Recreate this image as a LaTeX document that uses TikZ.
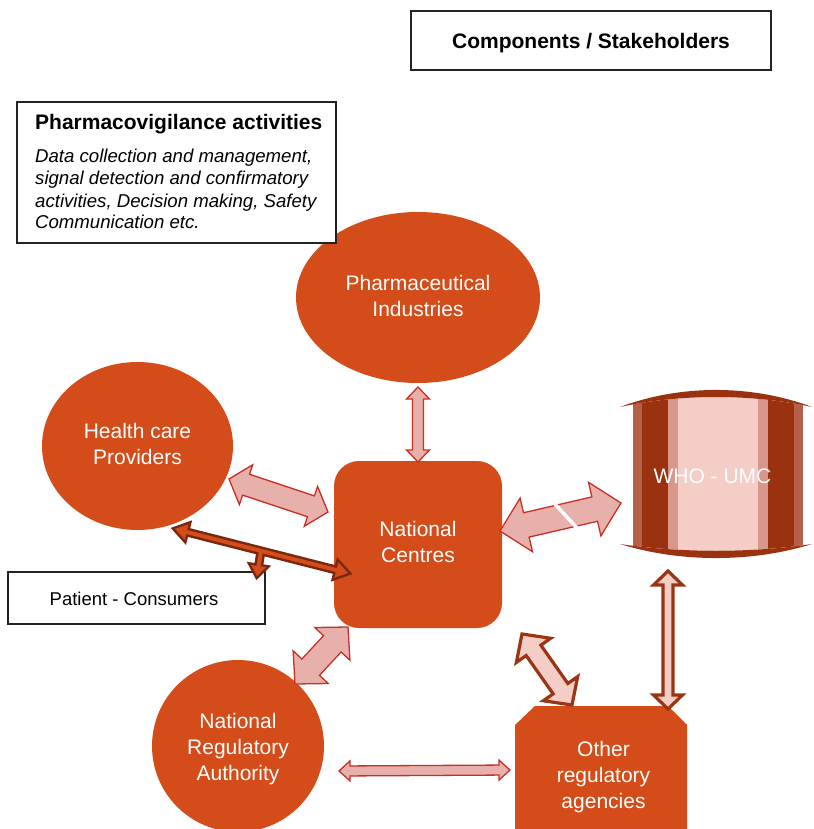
\documentclass[tikz,border=0pt]{standalone}
\usepackage{fontspec}
\setmainfont{Liberation Sans}
\usetikzlibrary{calc,shapes.geometric}

\definecolor{pvorange}{RGB}{211,76,26}
\definecolor{pinkfill}{RGB}{232,176,170}
\definecolor{pinkline}{RGB}{200,48,38}
\definecolor{palefill}{RGB}{244,205,199}
\definecolor{brownline}{RGB}{155,52,18}
\definecolor{darkbrown}{RGB}{155,50,15}
\definecolor{midpink}{RGB}{217,150,138}
\definecolor{midbrown}{RGB}{181,96,74}
\definecolor{tline}{RGB}{120,40,15}
\definecolor{boxline}{RGB}{35,35,35}

% block double arrow: style, tip A, tip B, shaft half width, head half width, head length
\newcommand{\dblarrow}[6]{%
  \coordinate (da) at ($(#2)!#6!(#3)$);
  \coordinate (db) at ($(#3)!#6!(#2)$);
  \path[#1] (#2) -- ($(da)!#5!90:(#3)$) -- ($(da)!#4!90:(#3)$)
    -- ($(db)!#4!90:(#3)$) -- ($(db)!#5!90:(#3)$) -- (#3)
    -- ($(db)!#5!-90:(#3)$) -- ($(db)!#4!-90:(#3)$)
    -- ($(da)!#4!-90:(#3)$) -- ($(da)!#5!-90:(#3)$) -- cycle;}
% block single arrow: style, base, tip, shaft half width, head half width, head length
\newcommand{\sglarrow}[6]{%
  \coordinate (db) at ($(#3)!#6!(#2)$);
  \path[#1] ($(#2)!#4!90:(#3)$) -- ($(db)!#4!90:(#3)$) -- ($(db)!#5!90:(#3)$)
    -- (#3) -- ($(db)!#5!-90:(#3)$) -- ($(db)!#4!-90:(#3)$)
    -- ($(#2)!#4!-90:(#3)$) -- cycle;}

\tikzset{
  whitetext/.style={text=white, align=center, inner sep=0pt,
    font=\fontsize{21}{26}\selectfont},
  stakeholder/.style={fill=pvorange, inner sep=0pt},
  softarrow/.style={fill=pinkfill, draw=pinkline, line width=1.3pt, line join=miter},
  palearrow/.style={fill=palefill, draw=brownline, line width=3.2pt, line join=miter},
  toutline/.style={draw=tline, line width=5pt, line join=miter},
  tfill/.style={fill=pvorange},
  labelbox/.style={draw=boxline, line width=1.1pt, fill=white},
  blacktext/.style={text=black, inner sep=0pt},
}

\begin{document}
\begin{tikzpicture}[x=1pt, y=-1pt]
\useasboundingbox (0,0) rectangle (813,829);
\clip (0,0) rectangle (813,829);

% stakeholder shapes
\node[stakeholder, ellipse, minimum width=244pt, minimum height=171pt] (pharma) at (418,297.5) {};
\node[whitetext] (pharmatext) at (418,296) {Pharmaceutical\\Industries};

\node[stakeholder, ellipse, minimum width=191pt, minimum height=168pt] (hcp) at (137.5,446) {};
\node[whitetext] (hcptext) at (137.5,444) {Health care\\Providers};

\node[stakeholder, rectangle, rounded corners=25pt, minimum width=168pt, minimum height=167pt] (nc) at (418,544.5) {};
\node[whitetext] (nctext) at (418,542) {National\\Centres};

\node[stakeholder, circle, minimum size=172pt] (nra) at (238,746) {};
\node[whitetext] (nratext) at (238,749) {National\\Regulatory\\Authority};

\fill[pvorange] (535,706) -- (668,706) -- (687,725) -- (687,840) -- (515,840) -- (515,725) -- cycle;
\node[whitetext] (oratext) at (603.5,777.5) {Other\\regulatory\\agencies};

% WHO - UMC barrel
\begin{scope}
  \clip (620,407) .. controls (680,393.7) and (752,393.7) .. (812,407)
     -- (812,544) .. controls (752,553) and (680,553) .. (620,544) -- cycle;
  \fill[midbrown]  (633,380) rectangle (642,570);
  \fill[darkbrown] (642,380) rectangle (668,570);
  \fill[midpink]   (668,380) rectangle (678,570);
  \fill[palefill]  (678,380) rectangle (758,570);
  \fill[midpink]   (758,380) rectangle (768,570);
  \fill[darkbrown] (768,380) rectangle (794,570);
  \fill[midbrown]  (794,380) rectangle (803,570);
\end{scope}
\fill[darkbrown] (620,407) .. controls (680,384.3) and (752,384.3) .. (812,407)
   .. controls (752,393.7) and (680,393.7) .. (620,407) -- cycle;
\fill[darkbrown] (620,544) .. controls (680,553) and (752,553) .. (812,544)
   .. controls (752,562.7) and (680,562.7) .. (620,544) -- cycle;
\node[blacktext, text=white, anchor=base, font=\fontsize{21}{26}\selectfont] (who) at (712.5,483) {WHO - UMC};

% arrow end points
\coordinate (pharmaS) at (418,387);
\coordinate (ncN) at (418,462);
\coordinate (hcpE) at (229,479);
\coordinate (ncW) at (328,512);
\coordinate (ncE) at (500,531);
\coordinate (whoW) at (621,503);
\coordinate (ncSW) at (348,627);
\coordinate (nraNE) at (295,684);
\coordinate (nraE) at (339,771);
\coordinate (oraW) at (510,770);
\coordinate (ncSE) at (522,634);
\coordinate (oraN) at (572,705);
\coordinate (whoS) at (668,571);
\coordinate (oraNE) at (668,709);
\coordinate (gapA) at (553,502);
\coordinate (gapB) at (578,529);

% connectors
\dblarrow{softarrow}{pharmaS}{ncN}{5.5pt}{11.5pt}{12pt}
\dblarrow{softarrow}{hcpE}{ncW}{11pt}{21pt}{18pt}
\dblarrow{softarrow}{ncE}{whoW}{12.5pt}{27.5pt}{27pt}
\draw[white, line width=3.5pt] (gapA) -- (gapB);
\dblarrow{softarrow}{nraNE}{ncSW}{12pt}{24pt}{23pt}
\dblarrow{softarrow}{nraE}{oraW}{5pt}{10pt}{11pt}
\dblarrow{palearrow}{ncSE}{oraN}{9pt}{21pt}{20pt}
\dblarrow{palearrow}{whoS}{oraNE}{5pt}{14.5pt}{14pt}

% patient - consumers
\node[labelbox, minimum width=257pt, minimum height=52pt, inner sep=0pt] (patientbox) at (136.5,598) {};
\node[blacktext, anchor=base, font=\fontsize{18.5}{22}\selectfont] (patient) at (134,605) {Patient - Consumers};

\coordinate (tL) at (175,529);
\coordinate (tR) at (348,573);
\coordinate (tJ) at (261,551);
\coordinate (tD) at (257,576);
\dblarrow{toutline}{tL}{tR}{2pt}{8pt}{12pt}
\sglarrow{toutline}{tJ}{tD}{2pt}{7.5pt}{10pt}
\dblarrow{tfill}{tL}{tR}{2pt}{8pt}{12pt}
\sglarrow{tfill}{tJ}{tD}{2pt}{7.5pt}{10pt}

% heading boxes
\node[labelbox, minimum width=360pt, minimum height=59pt, inner sep=0pt] (compbox) at (591,40.5) {};
\node[blacktext, anchor=base, font=\bfseries\fontsize{21}{26}\selectfont] (comp) at (591,48.5) {Components / Stakeholders};

\node[labelbox, minimum width=319pt, minimum height=141pt, inner sep=0pt] (pvbox) at (176.5,172.5) {};
\node[blacktext, anchor=base west, font=\bfseries\fontsize{21}{26}\selectfont] (pvtitle) at (35,130) {Pharmacovigilance activities};
\node[blacktext, anchor=base west, font=\itshape\fontsize{18.6}{22}\selectfont] (pv1) at (35,163) {Data collection and management,};
\node[blacktext, anchor=base west, font=\itshape\fontsize{18.6}{22}\selectfont] (pv2) at (35,185) {signal detection and confirmatory};
\node[blacktext, anchor=base west, font=\itshape\fontsize{18.6}{22}\selectfont] (pv3) at (35,207) {activities, Decision making, Safety};
\node[blacktext, anchor=base west, font=\itshape\fontsize{18.6}{22}\selectfont] (pv4) at (35,228.5) {Communication etc.};
\end{tikzpicture}
\end{document}
